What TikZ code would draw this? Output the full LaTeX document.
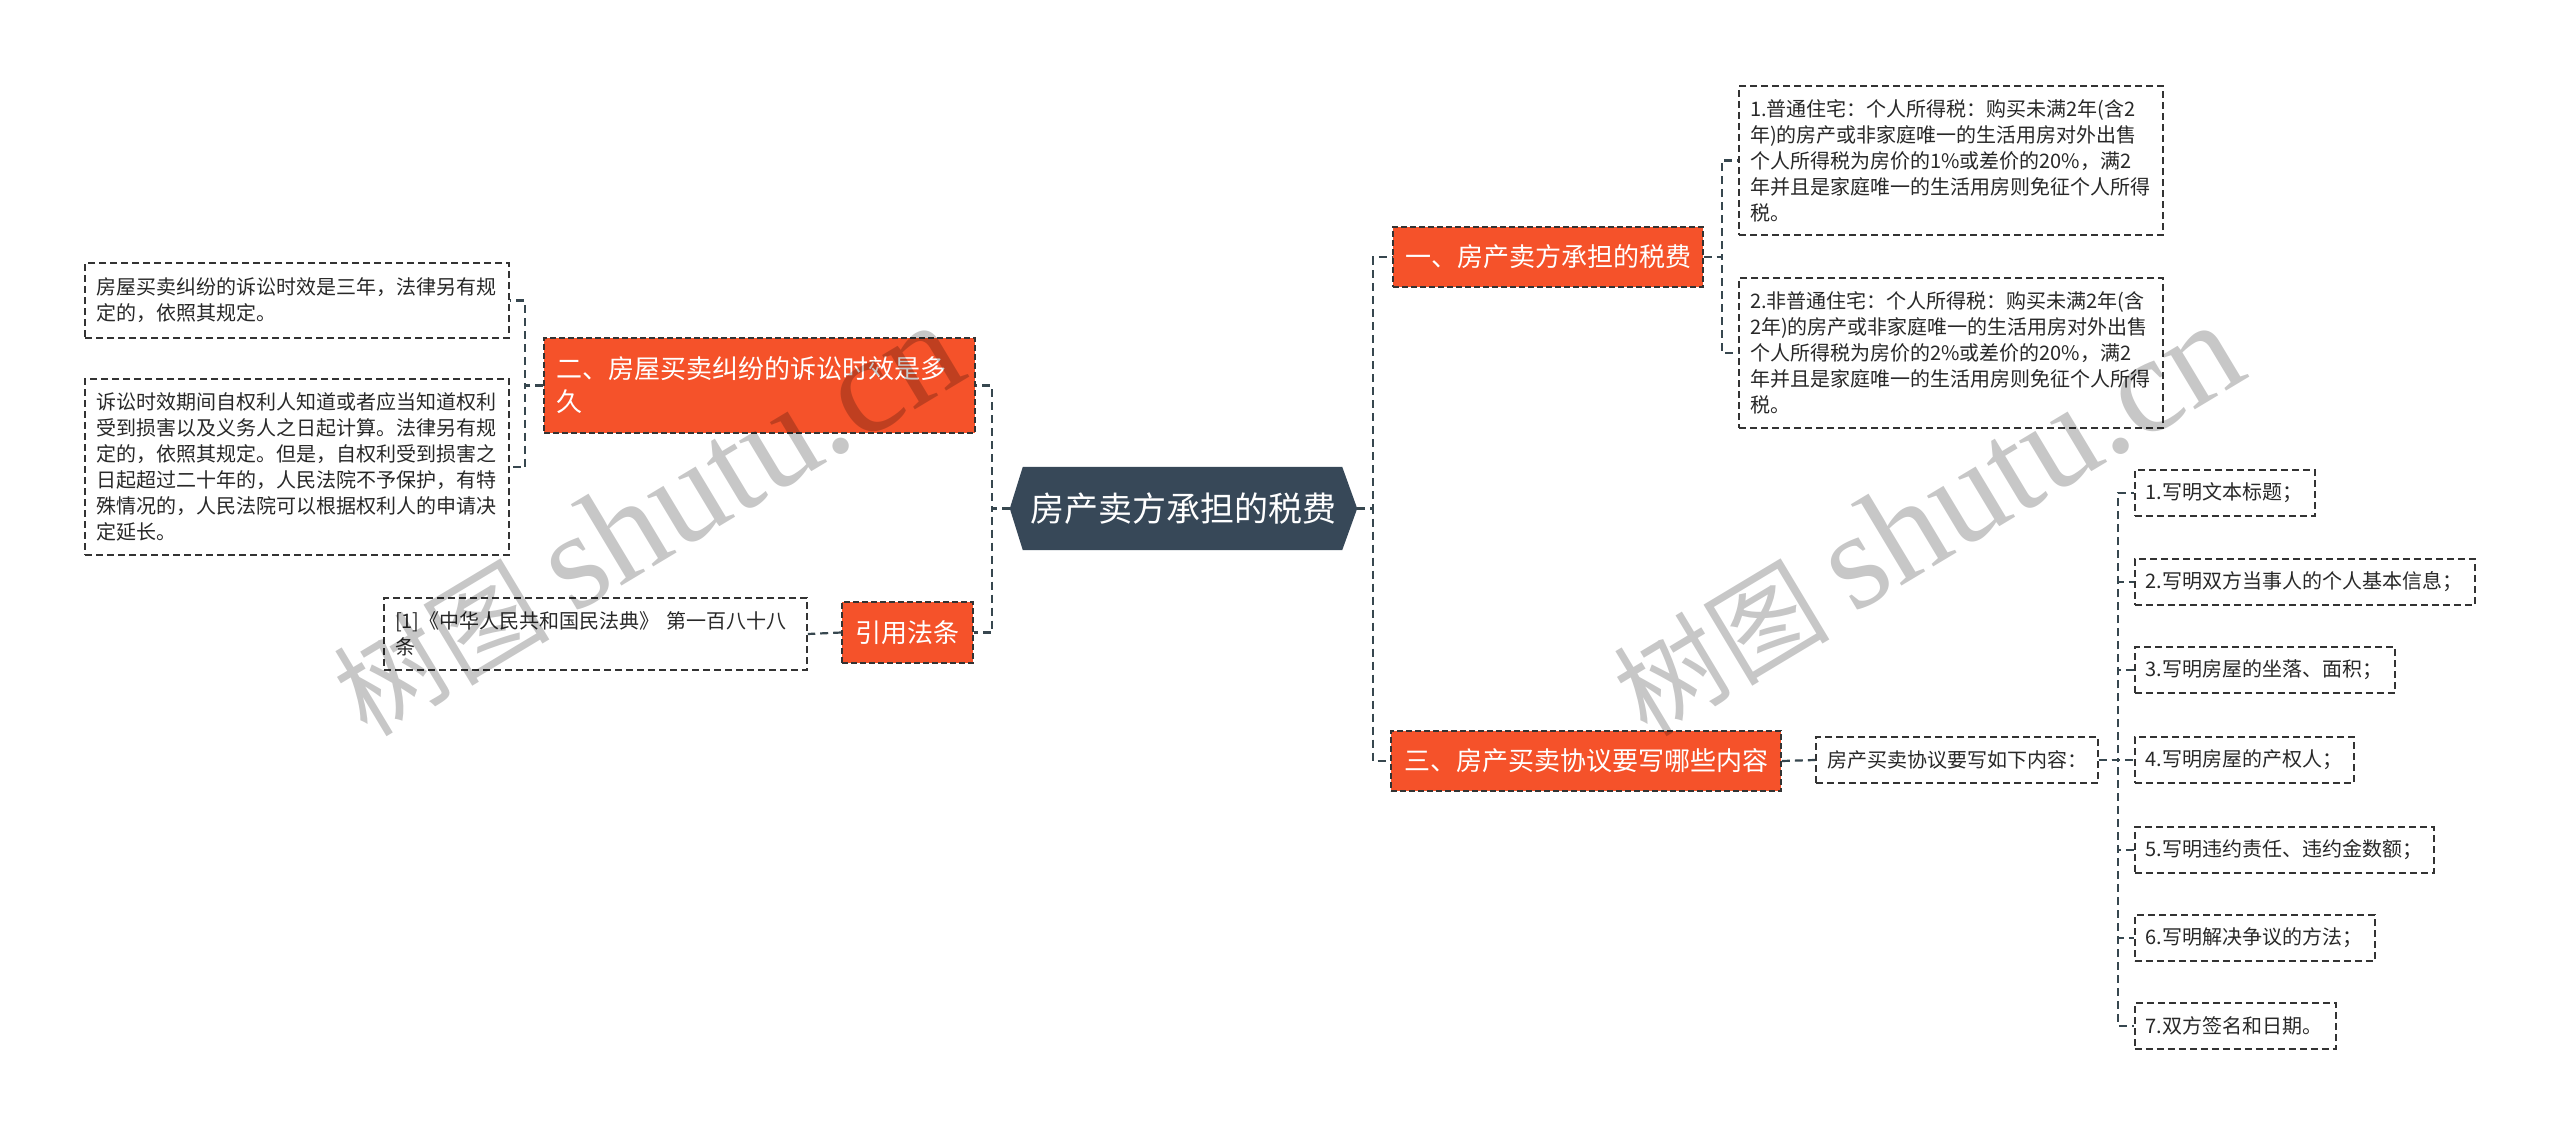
\documentclass[tikz,border=0pt]{standalone}
\usepackage{fontspec}
\setmainfont{Noto Sans CJK SC}
\newfontfamily\wmlatin{Liberation Serif}
\usetikzlibrary{backgrounds}
\definecolor{branchred}{RGB}{245,82,42}
\definecolor{rootcol}{RGB}{55,72,88}
\definecolor{linecol}{RGB}{55,71,79}
\definecolor{boxline}{RGB}{51,51,51}
\definecolor{leaftext}{RGB}{40,40,40}
\tikzset{
  leaf/.style={rectangle, draw=boxline, line width=1.6pt, dash pattern=on 7pt off 4pt,
    fill=white, inner xsep=11pt, inner ysep=0pt, align=left, text=leaftext,
    font=\fontsize{20}{26}\selectfont},
  branch/.style={rectangle, draw=boxline, line width=1.6pt, dash pattern=on 6pt off 3pt,
    fill=branchred, text=white, inner xsep=12pt, inner ysep=0pt,
    font=\fontsize{26}{33}\selectfont},
  rootbox/.style={rectangle, inner sep=0pt, text=white, font=\fontsize{34}{40}\selectfont},
  conn/.style={draw=linecol, line width=2.2pt, dash pattern=on 8pt off 5pt},
  wm/.style={rotate=31, opacity=0.22, text=black, inner sep=0pt},
}
\begin{document}
\begin{tikzpicture}[x=1pt,y=-1pt]
\useasboundingbox (0,0) rectangle (2560,1137);

% root
\node[rootbox, minimum width=347pt, minimum height=83pt] (root) at (1183.5,508.5) {房产卖方承担的税费};
\begin{scope}[on background layer]
\fill[white] (0,0) rectangle (2560,1137);
\fill[rootcol] (root.west) -- ([xshift=13pt]root.north west) -- ([xshift=-15pt]root.north east)
  -- (root.east) -- ([xshift=-15pt]root.south east) -- ([xshift=13pt]root.south west) -- cycle;
\end{scope}

% branches
\node[branch, minimum width=310pt, minimum height=60pt] (b1) at (1548,257) {一、房产卖方承担的税费};
\node[branch, minimum width=390pt, minimum height=60pt] (b3) at (1586,761) {三、房产买卖协议要写哪些内容};
\node[branch, text width=407pt, align=left, minimum height=95pt] (b2) at (759.5,385.5) {二、房屋买卖纠纷的诉讼时效是多\\久};
\node[branch, minimum width=131pt, minimum height=61pt] (cite) at (907.5,632.5) {引用法条};

% leaves of branch 1
\node[leaf, text width=402pt, minimum height=149pt] (t1) at (1951,160.5)
  {1.普通住宅：个人所得税：购买未满2年(含2\\年)的房产或非家庭唯一的生活用房对外出售\\个人所得税为房价的1\%或差价的20\%，满2\\年并且是家庭唯一的生活用房则免征个人所得\\税。};
\node[leaf, text width=402pt, minimum height=150pt] (t2) at (1951,353)
  {2.非普通住宅：个人所得税：购买未满2年(含\\2年)的房产或非家庭唯一的生活用房对外出售\\个人所得税为房价的2\%或差价的20\%，满2\\年并且是家庭唯一的生活用房则免征个人所得\\税。};

% leaves of branch 2
\node[leaf, text width=402pt, minimum height=75pt] (a1) at (297,300.5)
  {房屋买卖纠纷的诉讼时效是三年，法律另有规\\定的，依照其规定。};
\node[leaf, text width=402pt, minimum height=176pt] (a2) at (297,467)
  {诉讼时效期间自权利人知道或者应当知道权利\\受到损害以及义务人之日起计算。法律另有规\\定的，依照其规定。但是，自权利受到损害之\\日起超过二十年的，人民法院不予保护，有特\\殊情况的，人民法院可以根据权利人的申请决\\定延长。};

% citation leaf
\node[leaf, text width=401pt, minimum height=72pt] (ref) at (595.5,634)
  {[1]《中华人民共和国民法典》 第一百八十八\\条};

% branch 3
\node[leaf, text width=260pt, minimum height=46pt] (c) at (1957,760) {房产买卖协议要写如下内容：};
\node[leaf, text width=158pt, minimum height=46pt, anchor=west] (i1) at (2134,493) {1.写明文本标题；};
\node[leaf, text width=318pt, minimum height=46pt, anchor=west] (i2) at (2134,582) {2.写明双方当事人的个人基本信息；};
\node[leaf, text width=238pt, minimum height=46pt, anchor=west] (i3) at (2134,670) {3.写明房屋的坐落、面积；};
\node[leaf, text width=197pt, minimum height=46pt, anchor=west] (i4) at (2134,760) {4.写明房屋的产权人；};
\node[leaf, text width=277pt, minimum height=46pt, anchor=west] (i5) at (2134,850) {5.写明违约责任、违约金数额；};
\node[leaf, text width=218pt, minimum height=46pt, anchor=west] (i6) at (2134,938) {6.写明解决争议的方法；};
\node[leaf, text width=179pt, minimum height=46pt, anchor=west] (i7) at (2134,1026) {7.双方签名和日期。};

% connectors
\draw[conn] (root.east) -- ++(16,0) |- (b1.west);
\draw[conn] (root.east) -- ++(16,0) |- (b3.west);
\draw[conn] (root.west) -- ++(-18,0) |- (b2.east);
\draw[conn] (root.west) -- ++(-18,0) |- (cite.east);
\draw[conn] (b1.east) -- ++(18,0) |- (t1.west);
\draw[conn] (b1.east) -- ++(18,0) |- (t2.west);
\draw[conn] (b2.west) -- ++(-18,0) |- (a1.east);
\draw[conn] (b2.west) -- ++(-18,0) |- (a2.east);
\draw[conn] (cite.west) -- (ref.east);
\draw[conn] (b3.east) -- (c.west);
\foreach \n in {i1,i2,i3,i4,i5,i6,i7}{
  \draw[conn] (c.east) -- ++(19,0) |- (\n.west);
}

% watermarks
\node[wm] (wm1) at (647,520) {\fontsize{108}{108}\selectfont 树图 {\wmlatin\fontsize{138}{138}\selectfont shutu.cn}};
\node[wm] (wm2) at (1927,520) {\fontsize{108}{108}\selectfont 树图 {\wmlatin\fontsize{138}{138}\selectfont shutu.cn}};
\end{tikzpicture}
\end{document}
